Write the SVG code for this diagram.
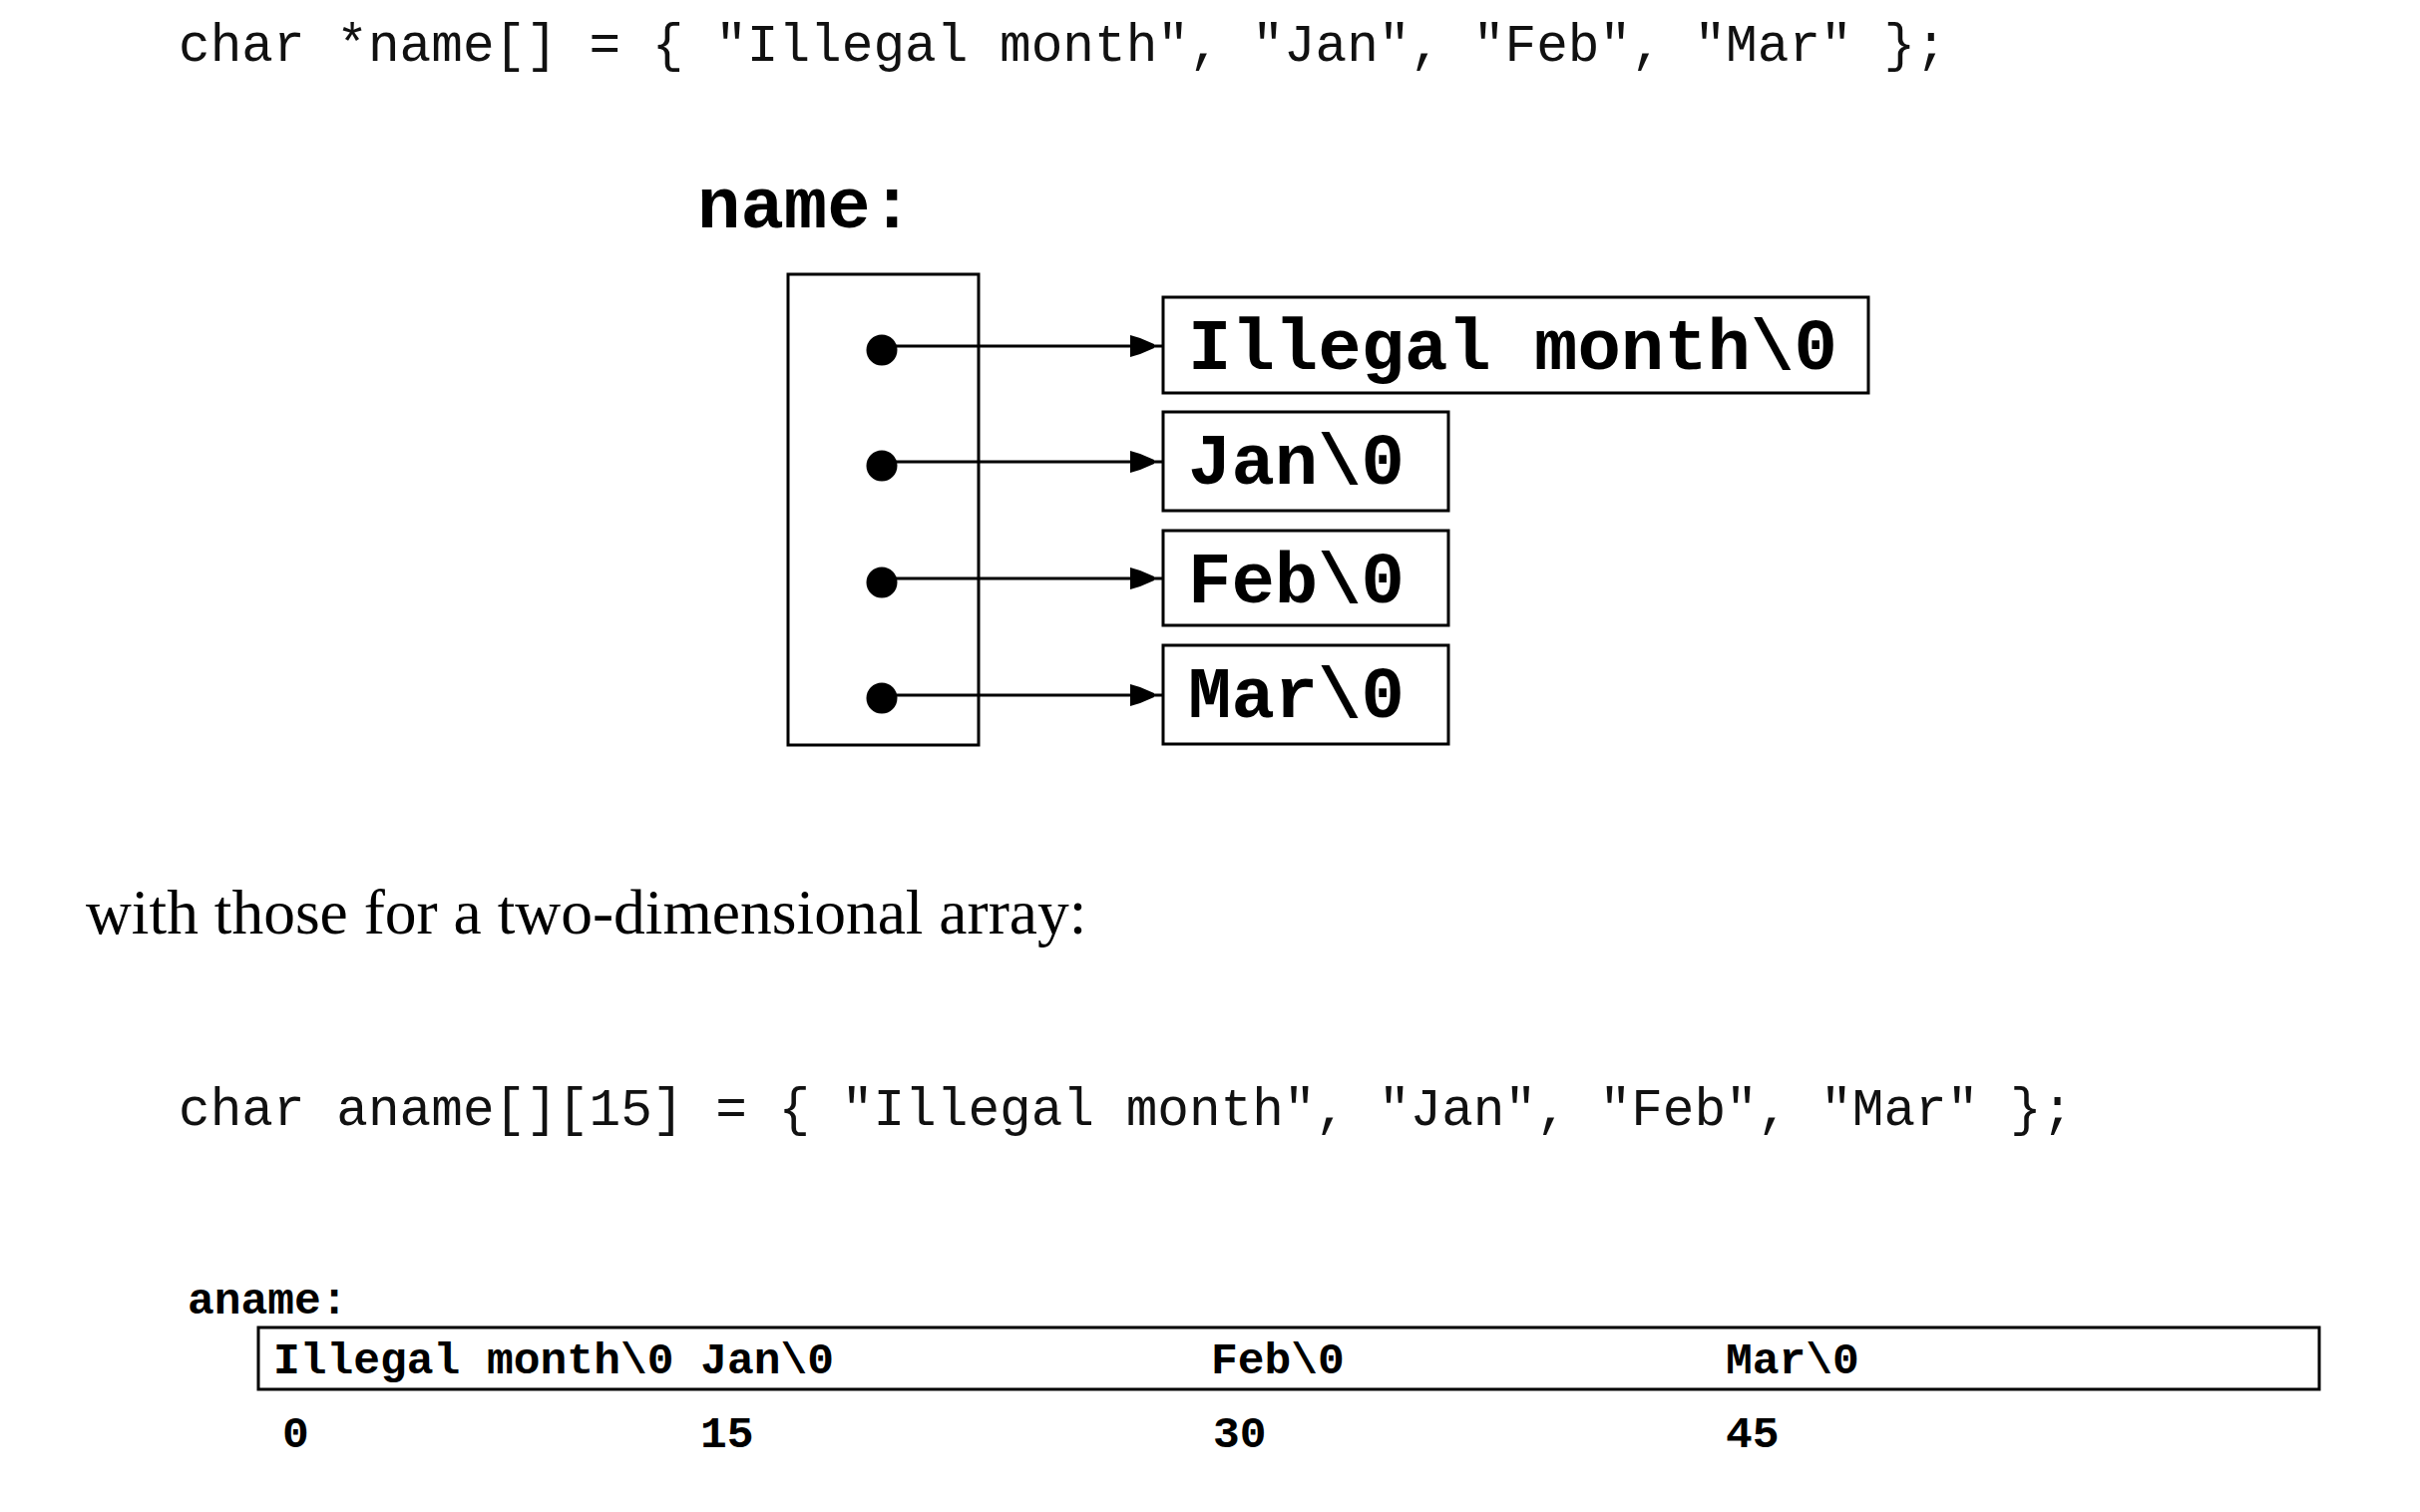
<svg xmlns="http://www.w3.org/2000/svg" width="2426" height="1516" viewBox="0 0 2426 1516">
  <defs>
    <style>
      .code { font-family: "Liberation Mono", "Courier New", monospace; font-size: 52.75px; fill: #111; }
      .prose { font-family: "Liberation Serif", "Times New Roman", serif; font-size: 63.5px; fill: #000; }
      .big { font-family: "Liberation Mono", "Courier New", monospace; font-weight: bold; font-size: 72.3px; fill: #000; }
      .small { font-family: "Liberation Mono", "Courier New", monospace; font-weight: bold; font-size: 44.6px; fill: #000; }
      .box { fill: #fff; stroke: #000; stroke-width: 3; }
      .conn { stroke: #000; stroke-width: 3; fill: none; marker-end: url(#arrow); }
      .dot { fill: #000; }
    </style>
    <marker id="arrow" markerUnits="userSpaceOnUse" viewBox="0 -12 34 24" refX="33" refY="0" markerWidth="34" markerHeight="24" orient="auto" overflow="visible">
      <path d="M0,-11 L10,-8 L24,-2 L24,2 L10,8 L0,11 Z" fill="#000"/>
    </marker>
  </defs>
  <rect x="0" y="0" width="2426" height="1516" fill="#fff"/>

  <text class="code" x="179" y="61" xml:space="preserve">char *name[] = { "Illegal month", "Jan", "Feb", "Mar" };</text>

  <g id="name-array">
    <text class="big" x="699" y="228">name:</text>
    <rect class="box" x="790" y="275" width="191" height="472"/>
  </g>

  <g id="str-illegal">
    <rect class="box" x="1166" y="298" width="707" height="96"/>
    <text class="big" x="1191" y="370" xml:space="preserve">Illegal month\0</text>
  </g>
  <g id="str-jan">
    <rect class="box" x="1166" y="413" width="286" height="99"/>
    <text class="big" x="1191" y="485">Jan\0</text>
  </g>
  <g id="str-feb">
    <rect class="box" x="1166" y="532" width="286" height="95"/>
    <text class="big" x="1191" y="604">Feb\0</text>
  </g>
  <g id="str-mar">
    <rect class="box" x="1166" y="647" width="286" height="99"/>
    <text class="big" x="1191" y="719">Mar\0</text>
  </g>

  <g id="connectors">
    <line class="conn" x1="884" y1="347" x2="1166" y2="347"/>
    <line class="conn" x1="884" y1="463" x2="1166" y2="463"/>
    <line class="conn" x1="884" y1="580" x2="1166" y2="580"/>
    <line class="conn" x1="884" y1="697" x2="1166" y2="697"/>
    <circle class="dot" cx="884" cy="351" r="15.5"/>
    <circle class="dot" cx="884" cy="467" r="15.5"/>
    <circle class="dot" cx="884" cy="584" r="15.5"/>
    <circle class="dot" cx="884" cy="700" r="15.5"/>
  </g>

  <text class="prose" x="86" y="936">with those for a two-dimensional array:</text>

  <text class="code" x="179" y="1128" xml:space="preserve">char aname[][15] = { "Illegal month", "Jan", "Feb", "Mar" };</text>

  <g id="aname-array">
    <text class="small" x="188" y="1317">aname:</text>
    <rect class="box" x="259" y="1331" width="2066" height="62"/>
    <text class="small" x="274" y="1377" xml:space="preserve">Illegal month\0 Jan\0</text>
    <text class="small" x="1214" y="1377">Feb\0</text>
    <text class="small" x="1730" y="1377">Mar\0</text>
    <text class="small" x="283" y="1451">0</text>
    <text class="small" x="702" y="1451">15</text>
    <text class="small" x="1216" y="1451">30</text>
    <text class="small" x="1730" y="1451">45</text>
  </g>
</svg>
